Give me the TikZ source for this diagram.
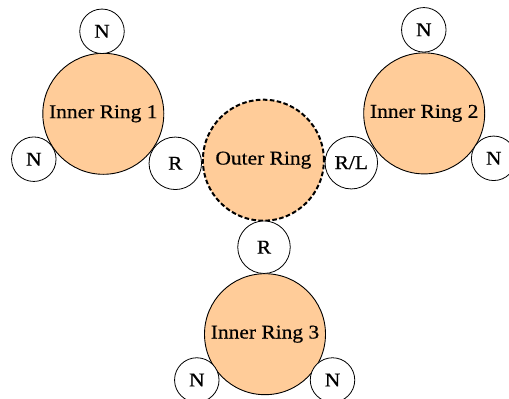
\documentclass[tikz,border=0pt]{standalone}
\usepackage{fontspec}
\setmainfont{Liberation Serif}[FakeStretch=1.1,FakeBold=0.6]
\definecolor{peach}{HTML}{FFCC99}
\tikzset{
  bigring/.style={circle, draw=black, line width=0.9pt, fill=peach, minimum size=121pt, inner sep=0pt, font=\fontsize{19.5}{22}\selectfont},
  outerring/.style={bigring, line width=2pt, dash pattern=on 4.6pt off 2.4pt},
  smallsite/.style={circle, draw=black, line width=0.8pt, fill=white, inner sep=0pt, font=\fontsize{19.5}{22}\selectfont},
  nsite/.style={smallsite, minimum size=44.5pt},
  rsite/.style={smallsite, minimum size=52.5pt}
}
\begin{document}
\begin{tikzpicture}[x=1pt,y=-1pt]
\useasboundingbox (0,0) rectangle (509,399);
\clip (0,0) rectangle (509,399);
\node[bigring] (ir1) at (103.3,113.8) {Inner Ring 1};
\node[bigring] (ir2) at (424.2,113.4) {Inner Ring 2};
\node[bigring] (ir3) at (265,334.2) {Inner Ring 3};
\node[outerring] (or) at (263.4,160.2) {Outer Ring};
\node[nsite] (n1a) at (102,31.3) {N};
\node[nsite] (n1b) at (33.8,159.2) {N};
\node[rsite] (r1) at (175.3,163.3) {R};
\node[rsite] (rl) at (351.3,162.7) {R/L};
\node[nsite] (n2a) at (423.8,29.8) {N};
\node[nsite] (n2b) at (493.7,158.3) {N};
\node[rsite] (r3) at (264,247.2) {R};
\node[nsite] (n3a) at (196.8,380) {N};
\node[nsite] (n3b) at (332.5,380) {N};
\end{tikzpicture}
\end{document}
